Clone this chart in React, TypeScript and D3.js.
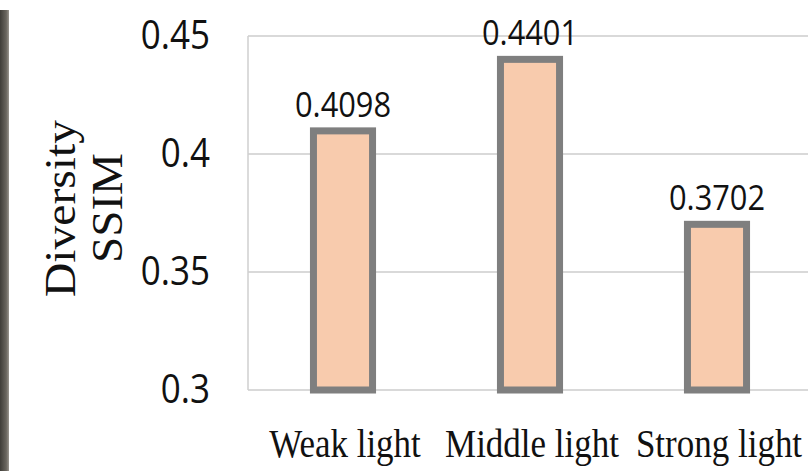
import React from "react";
import * as d3 from "d3";

const categories = ["Weak light", "Middle light", "Strong light"];
const values = [0.4098, 0.4401, 0.3702];
const yTicks = [0.3, 0.35, 0.4, 0.45];
const yTickLabels = ["0.3", "0.35", "0.4", "0.45"];
const titleLines = ["Diversity", "SSIM"];

const W = 808;
const H = 471;
const plotLeft = 248;
const plotTop = 36;
const plotBottom = 390;

export default function App() {
  const x = d3
    .scaleBand<string>()
    .domain(categories)
    .range([plotLeft + 1.5, 810.5])
    .paddingInner(0.684)
    .paddingOuter(0.342);
  const y = d3.scaleLinear().domain([0.3, 0.45]).range([plotBottom, plotTop]);

  const sans = "'Open Sans', 'DejaVu Sans', sans-serif";
  const serif = "'Liberation Serif', 'Times New Roman', serif";
  const ink = "#111111";

  return (
    <svg
      width={W}
      height={H}
      viewBox={`0 0 ${W} ${H}`}
      style={{ position: "absolute", left: 0, top: 0, background: "#fff" }}
    >
      <defs>
        <linearGradient id="edge" x1="0" x2="1" y1="0" y2="0">
          <stop offset="0" stopColor="#3f3d38" />
          <stop offset="0.7" stopColor="#6a665f" />
          <stop offset="1" stopColor="#9a968f" />
        </linearGradient>
      </defs>
      <rect x={0} y={10} width={9} height={H - 10} fill="url(#edge)" />

      {/* gridlines */}
      {yTicks.map((t) => (
        <line
          key={t}
          x1={plotLeft}
          x2={W}
          y1={y(t)}
          y2={y(t)}
          stroke="#d9d9d9"
          strokeWidth={2}
        />
      ))}
      <line
        x1={plotLeft}
        x2={plotLeft}
        y1={plotTop}
        y2={plotBottom}
        stroke="#cfcfcf"
        strokeWidth={1.5}
      />

      {/* y tick labels */}
      {yTicks.map((t, i) => (
        <text
          key={t}
          transform={`translate(210,${y(t) + 13}) scale(0.92,1.04)`}
          textAnchor="end"
          fontFamily={sans}
          fontSize={38}
          fontWeight={500}
          fill={ink}
        >
          {yTickLabels[i]}
        </text>
      ))}

      {/* axis title */}
      <text
        transform="translate(75,208.5) rotate(-90)"
        textAnchor="middle"
        fontFamily={serif}
        fontSize={44}
        textLength={177}
        lengthAdjust="spacingAndGlyphs"
        fill={ink}
      >
        {titleLines[0]}
      </text>
      <text
        transform="translate(122,208) rotate(-90)"
        textAnchor="middle"
        fontFamily={serif}
        fontSize={44}
        textLength={110}
        lengthAdjust="spacingAndGlyphs"
        fill={ink}
      >
        {titleLines[1]}
      </text>

      {/* bars */}
      {categories.map((c, i) => (
        <rect
          key={c}
          x={x(c)}
          y={y(values[i])}
          width={x.bandwidth()}
          height={plotBottom - y(values[i])}
          fill="#f8cbad"
          stroke="#7f7f7f"
          strokeWidth={7}
        />
      ))}

      {/* value labels */}
      {categories.map((c, i) => (
        <text
          key={c}
          transform={`translate(${(x(c) ?? 0) + x.bandwidth() / 2},${y(values[i]) - 14}) scale(0.88,1)`}
          textAnchor="middle"
          fontFamily={sans}
          fontSize={35}
          fill={ink}
        >
          {values[i].toFixed(4)}
        </text>
      ))}

      {/* category labels */}
      {categories.map((c) => (
        <text
          key={c}
          transform={`translate(${(x(c) ?? 0) + x.bandwidth() / 2 + 2},457) scale(1,1.12)`}
          textAnchor="middle"
          fontFamily={serif}
          fontSize={35}
          fill={ink}
        >
          {c}
        </text>
      ))}
    </svg>
  );
}
